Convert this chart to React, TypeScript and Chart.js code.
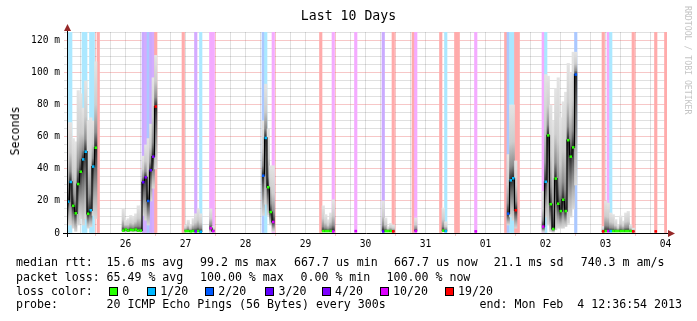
import React, { useEffect, useRef } from 'react';
import { Chart, registerables } from 'chart.js';

Chart.register(...registerables);

const MONO = '"DejaVu Sans Mono", "Liberation Mono", monospace';

// ---------------- data (1 h RRD steps, hours since Fri Jan 25 12:36:54 2013) ----------------
const slotHour = [
  0, 1, 2, 3, 4, 5, 6, 7, 8, 9, 10, 11, 12,
  22, 23, 24, 25, 26, 27, 28, 29,
  30, 31, 32, 33, 34, 35,
  46, 47, 48, 49, 50, 51, 52, 53, 57, 58,
  78, 79, 80, 81, 82,
  101, 102, 103, 104, 105, 106, 115,
  126, 127, 128, 129, 130, 138, 139,
  149, 150, 151, 155, 156, 163,
  175, 176, 177, 178, 179, 180,
  190, 191, 192, 193, 194, 195, 196, 197, 198, 199, 200, 201, 202, 203,
  214, 215, 216, 217, 218, 219, 220, 221, 222, 223, 224, 225, 226, 235, 239,
];

// median rtt in ms (null = no median)
const medianMs: (number | null)[] = [
  19.6, 31.9, 17.0, 12.3, 30.6, 38.3, 46.0, 50.8, 12.0, 14.2, 41.5, 53.3, null,
  1.5, 2.2, 1.5, 2.0, 1.8, 2.2, 1.5, 1.5,
  31.7, 34.8, 20.0, 39.2, 47.7, 79.0,
  null, 1.2, 1.2, 1.0, 1.2, 1.0, 1.2, 0.8, 3.0, 1.2,
  35.8, 59.4, 28.6, 13.1, 6.9,
  null, 1.2, 1.2, 1.2, 1.2, 1.0, 1.2,
  1.0, 1.2, 1.2, 1.2, 1.0, null, 1.2,
  null, 1.5, 1.2, null, null, 1.0,
  null, 12.1, 32.9, 34.2, 14.2, null,
  4.0, 32.0, 61.0, 18.0, 2.5, 34.0, 18.3, 13.7, 20.8, 13.7, 58.0, 47.7, 53.5, 99.0,
  1.0, 1.2, 1.2, 1.2, 1.2, 1.2, 1.2, 1.2, 1.2, 1.2, 1.2, 1.2, 1.0, 1.0, null,
];

// smoke: fastest ping (ms)
const minMs: (number | null)[] = [
  5, 5, 3, 1, 5, 9, 5, 9, 3, 4, 11, 9, null,
  0.7, 0.7, 0.7, 0.7, 0.7, 0.7, 0.7, 0.7,
  11, 8, 5, 20, 28, 40,
  null, 0.7, 0.7, 0.7, 0.7, 0.7, 0.7, 0.6, 0.7, 0.7,
  11, 18, 11, 5, 1,
  null, 0.7, 0.7, 0.7, 0.7, 0.7, 0.7,
  0.7, 0.7, 0.7, 0.7, 0.7, null, 0.7,
  null, 0.7, 0.7, null, null, 0.7,
  null, 5, 10, 8, 3, null,
  0.5, 10, 5, 1, 0.5, 2, 3, 3, 3, 4, 6, 10, 15, 30,
  0.7, 0.7, 0.7, 0.7, 0.7, 0.7, 0.7, 0.7, 0.7, 0.7, 0.7, 0.7, 0.7, 0.7, null,
];

// smoke: slowest ping (ms)
const maxMs: (number | null)[] = [
  69, 69, 59, 57, 89, 87, 78, 95, 70, 72, 70, 107, null,
  15, 8, 9, 11, 10, 12, 17, 17,
  48, 55, 59, 68, 97, 111,
  null, 5, 8, 5, 9, 12, 15, 12, 15, 4,
  70, 93, 65, 42, 42,
  null, 17, 11.5, 8.3, 12.5, 20.8, 1.5,
  20, 9.4, 4, 6, 5, null, 9.4,
  null, 15.6, 7, null, null, 1.5,
  null, 49, 80, 80, 45, null,
  26, 99, 98, 80, 70, 90, 97, 72, 82, 88, 106, 100, 113, 113,
  4, 20, 18.7, 12.5, 11.5, 8.4, 5, 10.6, 7.5, 12.5, 13.5, 5, 3, 1.2, null,
];

// lost pings out of 20
const lossCount = [
  1, 1, 0, 0, 0, 0, 1, 1, 0, 1, 1, 0, 19,
  0, 0, 0, 0, 0, 0, 0, 0,
  3, 4, 2, 3, 4, 19,
  19, 0, 0, 0, 0, 4, 0, 1, 10, 10,
  2, 1, 0, 0, 10,
  19, 0, 0, 0, 0, 10, 10,
  3, 0, 0, 0, 19, 19, 10,
  19, 0, 1, 19, 19, 10,
  19, 2, 1, 1, 19, 19,
  10, 1, 0, 0, 0, 0, 0, 0, 0, 0, 0, 0, 0, 2,
  19, 0, 10, 1, 0, 0, 0, 0, 0, 0, 0, 0, 19, 19, 19,
];

const lossLevels = [0, 1, 2, 3, 4, 10, 19];
const lossLabels = ['0', '1/20', '2/20', '3/20', '4/20', '10/20', '19/20'];
const lossColors = ['#26ff00', '#00b8ff', '#0059ff', '#5e00ff', '#7e00ff', '#dd00ff', '#ff0000'];

const dayLabels = ['26', '27', '28', '29', '30', '31', '01', '02', '03', '04'];
const yLabelValues = [0, 20, 40, 60, 80, 100, 120];
const yLabels = ['0', '20 m', '40 m', '60 m', '80 m', '100 m', '120 m'];

const titleText = 'Last 10 Days';
const unitText = 'Seconds';
const rttLabel = 'median rtt:';
const rttStats = ['15.6 ms avg', '99.2 ms max', '667.7 us min', '667.7 us now', '21.1 ms sd', '740.3 m am/s'];
const lossLabel = 'packet loss:';
const lossStats = ['65.49 % avg', '100.00 % max', '0.00 % min', '100.00 % now'];
const colorLabel = 'loss color:';
const probeLabel = 'probe:';
const probeText = '20 ICMP Echo Pings (56 Bytes) every 300s';
const endText = 'end: Mon Feb  4 12:36:54 2013';
const watermark = 'RRDTOOL / TOBI OETIKER';

// ---------------- layout constants ----------------
const Y_MAX = 125.6;
const HOURS = 240;
const START_HOUR_OF_DAY = 12 + 36 / 60 + 54 / 3600;
const MAJOR = 'rgba(230,70,70,0.3)';
const MINOR = 'rgba(0,0,0,0.12)';

const rttX = [106.5, 200, 294, 394, 493.7, 580.7];
const lossX = [106.5, 200, 300.5, 386.6];
const boxX = [108.8, 146.7, 204.7, 265, 321.5, 379.5, 444.6];
const ROW_Y = [262, 277, 291, 304];

// pale (opaque) version of a loss colour, like the rrd background bars
const pale = (hex: string, a: number) => {
  const n = parseInt(hex.slice(1), 16);
  const mix = (c: number) => Math.round(255 - (255 - c) * a);
  return `rgb(${mix((n >> 16) & 255)},${mix((n >> 8) & 255)},${mix(n & 255)})`;
};
const colorForLoss = (l: number) => lossColors[Math.max(0, lossLevels.indexOf(l))];

// 6-hour grid, majors at midnight, day labels at noon
const xGrid: number[] = [];
const xGridMajor: boolean[] = [];
const xGridLabel: string[] = [];
for (let m = 0; m < 50; m++) {
  const h = 6 * m - START_HOUR_OF_DAY;
  if (h <= 0 || h > HOURS) continue;
  xGrid.push(h);
  xGridMajor.push(m % 4 === 0);
  xGridLabel.push(m % 4 === 2 ? dayLabels[(m - 6) / 4] ?? '' : '');
}
const xIndex = (v: number) => xGrid.findIndex((g) => Math.abs(g - v) < 1e-6);
const yGrid: number[] = [];
for (let v = 0; v <= 125; v += 5) yGrid.push(v);

const smokeFill = (c: any) => {
  if (c.type !== 'data' || !c.raw) return '#cccccc';
  const chart = c.chart;
  const ys = chart.scales.y;
  const [lo, hi] = c.raw.y as number[];
  const top = ys.getPixelForValue(hi);
  const bot = ys.getPixelForValue(lo);
  if (!isFinite(top) || !isFinite(bot) || bot - top < 1.5) return '#c4c4c4';
  const med = c.raw.median ?? (lo + hi) / 2;
  let t = (ys.getPixelForValue(med) - top) / (bot - top);
  t = Math.min(0.97, Math.max(0.03, t));
  const g = chart.ctx.createLinearGradient(0, top, 0, bot);
  g.addColorStop(0, 'rgb(228,228,228)');
  g.addColorStop(t * 0.5, 'rgb(205,205,205)');
  g.addColorStop(t * 0.82, 'rgb(140,140,140)');
  g.addColorStop(t, 'rgb(40,40,40)');
  g.addColorStop(t + (1 - t) * 0.3, 'rgb(105,105,105)');
  g.addColorStop(t + (1 - t) * 0.7, 'rgb(178,178,178)');
  g.addColorStop(1, 'rgb(216,216,216)');
  return g;
};

const axesPlugin = {
  id: 'rrdAxes',
  afterDraw(chart: any) {
    const { ctx, chartArea } = chart;
    const { left, right, top, bottom } = chartArea;
    ctx.save();
    ctx.strokeStyle = '#000';
    ctx.lineWidth = 1;
    ctx.beginPath();
    ctx.moveTo(Math.round(left) - 4, Math.round(bottom) + 0.5);
    ctx.lineTo(Math.round(right) + 3, Math.round(bottom) + 0.5);
    ctx.moveTo(Math.round(left) + 0.5, Math.round(bottom) + 4);
    ctx.lineTo(Math.round(left) + 0.5, Math.round(top) - 3);
    ctx.stroke();
    ctx.fillStyle = 'rgb(150,40,40)';
    const bx = Math.round(right) + 1;
    const by = Math.round(bottom) + 0.5;
    ctx.beginPath();
    ctx.moveTo(bx, by - 3.5);
    ctx.lineTo(bx + 7, by);
    ctx.lineTo(bx, by + 3.5);
    ctx.closePath();
    ctx.fill();
    const ax = Math.round(left) + 0.5;
    const ay = Math.round(top) - 1;
    ctx.beginPath();
    ctx.moveTo(ax - 3.5, ay);
    ctx.lineTo(ax, ay - 7);
    ctx.lineTo(ax + 3.5, ay);
    ctx.closePath();
    ctx.fill();
    ctx.restore();
  },
};

const T = ({ x, y, children, size = 11.6, right }: any) => (
  <div
    style={{
      position: 'absolute',
      left: right === undefined ? x : undefined,
      right,
      top: y - 6.2,
      fontFamily: MONO,
      fontSize: size,
      lineHeight: '12px',
      whiteSpace: 'pre',
      color: '#000',
    }}
  >
    {children}
  </div>
);

export default function App() {
  const canvasRef = useRef<HTMLCanvasElement | null>(null);

  useEffect(() => {
    const canvas = canvasRef.current;
    if (!canvas) return;

    const bandIdx = slotHour.map((_, i) => i).filter((i) => lossCount[i] > 0);
    const bandData = bandIdx.map((i) => ({ x: slotHour[i] + 0.5, y: [0, Y_MAX] }));
    const bandColors = bandIdx.map((i) => pale(colorForLoss(lossCount[i]), 0.33));

    const smokeIdx = slotHour.map((_, i) => i).filter((i) => minMs[i] !== null && maxMs[i] !== null);
    const smokeData = smokeIdx.map((i) => ({
      x: slotHour[i] + 0.5,
      y: [minMs[i] as number, maxMs[i] as number],
      median: medianMs[i],
    }));

    const lineData: { x: number; y: number | null }[] = [];
    const pointColors: string[] = [];
    for (let s = 0; s < HOURS; s++) {
      const i = slotHour.indexOf(s);
      const v = i >= 0 ? medianMs[i] : null;
      lineData.push({ x: s + 0.5, y: v });
      pointColors.push(i >= 0 ? colorForLoss(lossCount[i]) : '#000');
    }

    const chart = new Chart(canvas, {
      type: 'bar',
      data: {
        datasets: [
          {
            type: 'bar',
            data: bandData as any,
            backgroundColor: bandColors,
            borderWidth: 0,
            grouped: false,
            barThickness: 2.5,
            order: 3,
          } as any,
          {
            type: 'bar',
            data: smokeData as any,
            backgroundColor: smokeFill,
            borderWidth: 0,
            grouped: false,
            barThickness: 2.5,
            order: 2,
          } as any,
          {
            type: 'line',
            data: lineData as any,
            borderColor: '#000',
            borderWidth: 1.2,
            stepped: 'middle',
            spanGaps: false,
            pointStyle: 'rect',
            pointRadius: 1.8,
            pointBorderWidth: 0,
            pointBackgroundColor: pointColors,
            pointBorderColor: pointColors,
            order: 1,
          } as any,
        ],
      },
      options: {
        animation: false,
        responsive: false,
        maintainAspectRatio: false,
        devicePixelRatio: 1,
        layout: { padding: { left: 0, right: 30, top: 32, bottom: 68 } },
        plugins: {
          legend: { display: false },
          tooltip: { enabled: false },
          title: { display: false },
        },
        scales: {
          x: {
            type: 'linear',
            min: 0,
            max: HOURS,
            offset: false,
            z: 1,
            afterBuildTicks: (s: any) => {
              s.ticks = xGrid.map((v) => ({ value: v }));
            },
            afterFit: (s: any) => {
              s.height = 20;
            },
            grid: {
              offset: false,
              drawTicks: true,
              tickLength: 3,
              lineWidth: 1,
              color: (c: any) => (c.tick && xGridMajor[xIndex(c.tick.value)] ? MAJOR : MINOR),
              tickColor: (c: any) => (c.tick && xGridMajor[xIndex(c.tick.value)] ? MAJOR : 'rgba(0,0,0,0)'),
            },
            border: { display: false },
            ticks: {
              autoSkip: false,
              maxRotation: 0,
              minRotation: 0,
              padding: 3,
              color: '#000',
              font: { family: MONO, size: 9.6 },
              callback: (v: any) => {
                const i = xIndex(Number(v));
                return i >= 0 ? xGridLabel[i] : '';
              },
            },
          },
          y: {
            type: 'linear',
            min: 0,
            max: Y_MAX,
            z: 1,
            afterBuildTicks: (s: any) => {
              s.ticks = yGrid.map((v) => ({ value: v }));
            },
            afterFit: (s: any) => {
              s.width = 67;
            },
            grid: {
              drawTicks: true,
              tickLength: 3,
              lineWidth: 1,
              color: (c: any) => (c.tick && c.tick.value % 20 === 0 ? MAJOR : MINOR),
              tickColor: (c: any) => (c.tick && c.tick.value % 20 === 0 ? MAJOR : MINOR),
            },
            border: { display: false },
            ticks: {
              autoSkip: false,
              padding: 4,
              color: '#000',
              font: { family: MONO, size: 9.6 },
              callback: (v: any) => {
                const i = yLabelValues.indexOf(Number(v));
                return i >= 0 ? yLabels[i] : '';
              },
            },
          },
        },
      } as any,
      plugins: [axesPlugin],
    });

    return () => chart.destroy();
  }, []);

  return (
    <div
      style={{
        position: 'fixed',
        left: 0,
        top: 0,
        width: 697,
        height: 321,
        background: '#fff',
        overflow: 'hidden',
      }}
    >
      <canvas
        ref={canvasRef}
        width={697}
        height={321}
        style={{ position: 'absolute', left: 0, top: 0, width: 697, height: 321 }}
      />
      <div
        style={{
          position: 'absolute',
          left: 0,
          width: 697,
          top: 9,
          textAlign: 'center',
          fontFamily: MONO,
          fontSize: 13.2,
          lineHeight: '14px',
          color: '#000',
          whiteSpace: 'pre',
        }}
      >
        {titleText}
      </div>
      <div
        style={{
          position: 'absolute',
          left: 14.5,
          top: 130.5,
          transform: 'translate(-50%, -50%) rotate(-90deg)',
          fontFamily: MONO,
          fontSize: 11.6,
          lineHeight: '12px',
          whiteSpace: 'pre',
          color: '#000',
        }}
      >
        {unitText}
      </div>
      <div
        style={{
          position: 'absolute',
          left: 683,
          top: 6,
          writingMode: 'vertical-rl',
          fontFamily: MONO,
          fontSize: 8.2,
          lineHeight: '9px',
          whiteSpace: 'pre',
          color: '#c4c4c4',
        }}
      >
        {watermark}
      </div>

      <T x={16} y={ROW_Y[0]}>{rttLabel}</T>
      {rttStats.map((s, i) => (
        <T key={'r' + i} x={rttX[i]} y={ROW_Y[0]}>{s}</T>
      ))}
      <T x={16} y={ROW_Y[1]}>{lossLabel}</T>
      {lossStats.map((s, i) => (
        <T key={'l' + i} x={lossX[i]} y={ROW_Y[1]}>{s}</T>
      ))}
      <T x={16} y={ROW_Y[2]}>{colorLabel}</T>
      {lossLabels.map((s, i) => (
        <React.Fragment key={'c' + i}>
          <div
            style={{
              position: 'absolute',
              left: boxX[i],
              top: ROW_Y[2] - 4,
              width: 7,
              height: 7,
              border: '1px solid #000',
              background: lossColors[i],
            }}
          />
          <T x={boxX[i] + 13.5} y={ROW_Y[2]}>{s}</T>
        </React.Fragment>
      ))}
      <T x={16} y={ROW_Y[3]}>{probeLabel}</T>
      <T x={106.5} y={ROW_Y[3]}>{probeText}</T>
      <T right={15} y={ROW_Y[3]}>{endText}</T>
    </div>
  );
}
